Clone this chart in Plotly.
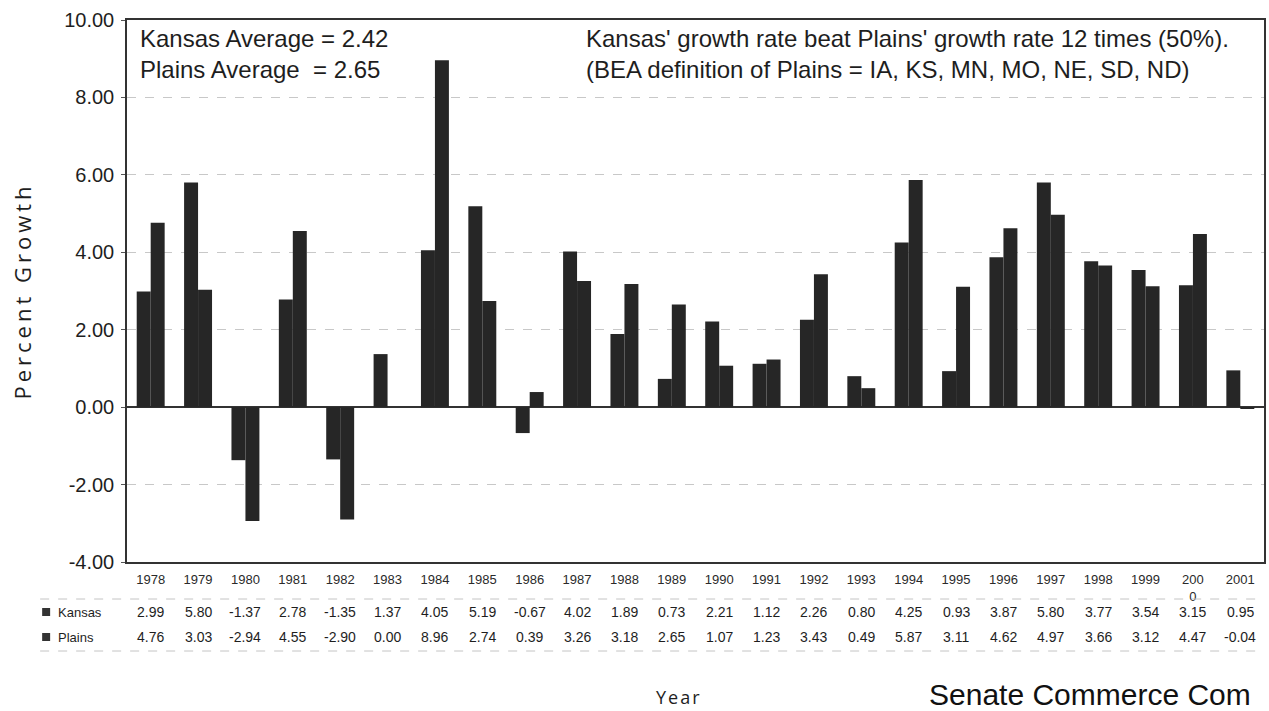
import plotly.graph_objects as go

# Annual percent growth, Kansas vs. the Plains region
years = ["1978", "1979", "1980", "1981", "1982", "1983", "1984", "1985", "1986", "1987",
         "1988", "1989", "1990", "1991", "1992", "1993", "1994", "1995", "1996", "1997",
         "1998", "1999", "2000", "2001"]
year_labels = ["1978", "1979", "1980", "1981", "1982", "1983", "1984", "1985", "1986", "1987",
               "1988", "1989", "1990", "1991", "1992", "1993", "1994", "1995", "1996", "1997",
               "1998", "1999", "200<br>0", "2001"]
kansas = [2.99, 5.80, -1.37, 2.78, -1.35, 1.37, 4.05, 5.19, -0.67, 4.02,
          1.89, 0.73, 2.21, 1.12, 2.26, 0.80, 4.25, 0.93, 3.87, 5.80,
          3.77, 3.54, 3.15, 0.95]
plains = [4.76, 3.03, -2.94, 4.55, -2.90, 0.00, 8.96, 2.74, 0.39, 3.26,
          3.18, 2.65, 1.07, 1.23, 3.43, 0.49, 5.87, 3.11, 4.62, 4.97,
          3.66, 3.12, 4.47, -0.04]
y_ticks = [-4, -2, 0, 2, 4, 6, 8, 10]
kansas_avg = 2.42
plains_avg = 2.65

W, H = 1269, 711
ML, MR, MT, MB = 127, 3, 20, 149
PW = W - ML - MR
PH = H - MT - MB

def px_x(p):
    return (p - ML) / PW

def px_y(p):
    return (H - MB - p) / PH

BAR = "#262626"
TXT = "#1e1e1e"
SANS = "Liberation Sans, Arial, sans-serif"
HUMAN = "Open Sans, Noto Sans, sans-serif"

fig = go.Figure()
fig.add_trace(go.Bar(name="Kansas", x=years, y=kansas, marker=dict(color=BAR, line=dict(width=0))))
fig.add_trace(go.Bar(name="Plains", x=years, y=plains, marker=dict(color=BAR, line=dict(width=0))))

annotations = []

# Notes inside the plot area
notes = [
    dict(text=f"Kansas Average = {kansas_avg:.2f}", x=px_x(138), y=px_y(38)),
    dict(text=f"Plains Average  = {plains_avg:.2f}", x=px_x(138), y=px_y(70)),
    dict(text="Kansas' growth rate beat Plains' growth rate 12 times (50%).", x=px_x(585), y=px_y(38)),
    dict(text="(BEA definition of Plains = IA, KS, MN, MO, NE, SD, ND)", x=px_x(585), y=px_y(70)),
]
for a in notes:
    a.update(xref="paper", yref="paper", xanchor="left", yanchor="middle", showarrow=False,
             font=dict(family=SANS, size=24, color=TXT))
annotations += notes

# Data table below the axis (one column per year, placed by category index)
table = []
for i, (k, p) in enumerate(zip(kansas, plains)):
    table.append(dict(text=f"{k:.2f}", x=i, y=px_y(612)))
    table.append(dict(text=f"{p:.2f}", x=i, y=px_y(637)))
for a in table:
    a.update(xref="x", xanchor="center", yref="paper", yanchor="middle", showarrow=False,
             font=dict(family=SANS, size=14, color=TXT))
for name, yy in (("Kansas", 612), ("Plains", 637)):
    table.append(dict(text=name, x=px_x(56), y=px_y(yy), xref="paper", xanchor="left",
                      yref="paper", yanchor="middle", showarrow=False,
                      font=dict(family=SANS, size=13, color=TXT)))
annotations += table

annotations += [
    dict(text="Year", x=px_x(680), y=px_y(697), xref="paper", yref="paper",
         xanchor="center", yanchor="middle", showarrow=False,
         font=dict(family=HUMAN, size=18, color=TXT)),
    dict(text="Senate Commerce Com", x=px_x(928), y=px_y(694), xref="paper", yref="paper",
         xanchor="left", yanchor="middle", showarrow=False,
         font=dict(family=SANS, size=30, color="#111")),
]

shapes = []
for yy in (599, 651):
    shapes.append(dict(type="line", xref="paper", yref="paper", x0=px_x(40), x1=px_x(1266),
                       y0=px_y(yy), y1=px_y(yy), line=dict(color="#c4c4c4", width=1, dash="dash")))
for yy in (612, 637):
    shapes.append(dict(type="rect", xref="paper", yref="paper", x0=px_x(42), x1=px_x(50),
                       y0=px_y(yy - 4), y1=px_y(yy + 4), line=dict(width=0), fillcolor="#333"))

fig.update_layout(
    width=W, height=H,
    margin=dict(l=ML, r=MR, t=MT, b=MB),
    paper_bgcolor="white", plot_bgcolor="white",
    barmode="group", bargap=0.41, bargroupgap=0,
    showlegend=False,
    annotations=annotations,
    shapes=shapes,
    font=dict(family=SANS, color=TXT),
)
fig.update_xaxes(
    type="category", range=[-0.5, 23.5],
    tickmode="array", tickvals=years, ticktext=year_labels,
    tickfont=dict(family=SANS, size=13, color="#2a2a2a"),
    ticks="", ticklabelstandoff=5,
    showline=True, linecolor="#333", linewidth=1.5, mirror=True,
    showgrid=False, zeroline=False,
)
fig.update_yaxes(
    range=[-4, 10],
    tickmode="array", tickvals=y_ticks, ticktext=[f"{v:.2f}" for v in y_ticks],
    tickfont=dict(family=SANS, size=20, color=TXT),
    ticks="outside", ticklen=4, tickcolor="#555", ticklabelstandoff=3,
    showline=True, linecolor="#333", linewidth=1.5, mirror=True,
    showgrid=True, gridcolor="#c8c8c8", griddash="dash", gridwidth=1,
    zeroline=True, zerolinecolor="#333", zerolinewidth=1.5,
    title=dict(text="Percent Growth", font=dict(family=HUMAN, size=22, color=TXT), standoff=26),
)

spacing_js = """
document.querySelectorAll('.ytitle').forEach(function(t){ t.style.letterSpacing = '4px'; });
document.querySelectorAll('.annotation-text').forEach(function(t){
  if (t.textContent === 'Year') { t.style.letterSpacing = '2px'; }
});
"""
fig.write_html("out.html", post_script=spacing_js)
